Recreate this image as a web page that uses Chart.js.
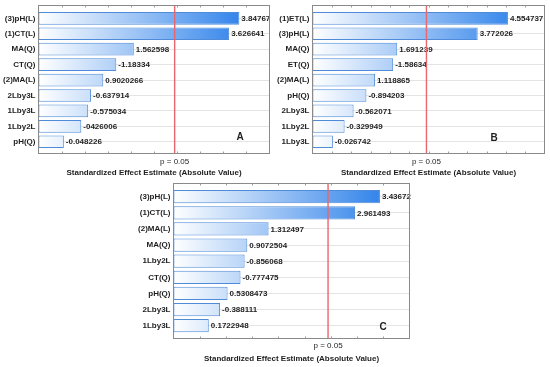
<!DOCTYPE html>
<html><head><meta charset="utf-8">
<script src="https://cdn.jsdelivr.net/npm/chart.js@4/dist/chart.umd.min.js"></script>
<style>
html,body{margin:0;padding:0;background:#fff;width:550px;height:367px;overflow:hidden;}
canvas{position:absolute;}
</style></head><body>
<canvas id="cA" width="275" height="180" style="left:0;top:0"></canvas>
<canvas id="cB" width="275" height="180" style="left:275px;top:0"></canvas>
<canvas id="cC" width="300" height="187" style="left:120px;top:180px"></canvas>
<script>
// ---- data ----
const xTitle = 'Standardized Effect Estimate (Absolute Value)';
const pLabel = 'p = 0.05';
const pCrit = 2.4469;

const labelsA = ['(3)pH(L)','(1)CT(L)','MA(Q)','CT(Q)','(2)MA(L)','2Lby3L','1Lby3L','1Lby2L','pH(Q)'];
const effectsA = [3.84767, 3.626641, 1.562598, -1.18334, 0.9020266, -0.637914, -0.575034, -0.426006, -0.048226];
const textsA = ['3.84767','3.626641','1.562598','-1.18334','0.9020266','-0.637914','-0.575034','-0426006','-0.048226'];

const labelsB = ['(1)ET(L)','(3)pH(L)','MA(Q)','ET(Q)','(2)MA(L)','pH(Q)','2Lby3L','1Lby2L','1Lby3L'];
const effectsB = [4.554737, 3.772026, 1.691239, -1.58634, 1.118865, -0.894203, -0.562071, -0.329949, -0.026742];
const textsB = ['4.554737','3.772026','1.691239','-1.58634','1.118865','-0.894203','-0.562071','-0.329949','-0.026742'];

const labelsC = ['(3)pH(L)','(1)CT(L)','(2)MA(L)','MA(Q)','1Lby2L','CT(Q)','pH(Q)','2Lby3L','1Lby3L'];
const effectsC = [3.43672, 2.961493, 1.312497, 0.9072504, -0.856068, -0.777475, 0.5308473, -0.388111, 0.1722948];
const textsC = ['3.43672','2.961493','1.312497','0.9072504','-0.856068','-0.777475','0.5308473','-0.388111','0.1722948'];

// ---- drawing ----
const FAM = '"Liberation Sans", Arial, sans-serif';
const TXT = '#1e1e1e';

const decor = {
  id: 'decor',
  afterDatasetsDraw(chart, args, o) {
    const {ctx, chartArea: ca, scales: {x}} = chart;
    ctx.save();
    // value labels
    const meta = chart.getDatasetMeta(0);
    ctx.font = 'bold 8px ' + FAM;
    ctx.fillStyle = TXT; ctx.textBaseline = 'middle'; ctx.textAlign = 'left';
    meta.data.forEach((bar, i) => ctx.fillText(o.texts[i], bar.x + 2, bar.y + 0.5));
    // critical line
    const px = x.getPixelForValue(pCrit);
    ctx.strokeStyle = '#e8666e'; ctx.lineWidth = 1.4;
    ctx.beginPath(); ctx.moveTo(px, o.frameTop); ctx.lineTo(px, o.frameBottom); ctx.stroke();
    // frame
    ctx.strokeStyle = '#8a8a8a'; ctx.lineWidth = 1;
    ctx.strokeRect(ca.left, o.frameTop, ca.right - ca.left, o.frameBottom - o.frameTop);
    // small inward tick marks
    ctx.strokeStyle = '#9a9a9a';
    ctx.beginPath();
    for (let v = x.min + 0.5; v < x.max - 1e-9; v += 0.5) {
      const tx = Math.round(x.getPixelForValue(v)) + 0.5;
      ctx.moveTo(tx, o.frameBottom); ctx.lineTo(tx, o.frameBottom - 2);
      ctx.moveTo(tx, o.frameTop); ctx.lineTo(tx, o.frameTop + 2);
    }
    ctx.stroke();
    // panel letter
    ctx.font = 'bold 10px ' + FAM; ctx.textAlign = 'center'; ctx.fillStyle = TXT;
    ctx.fillText(o.letter, o.letterX, o.letterY);
    ctx.restore();
  }
};

function makeChart(id, labels, effects, texts, lay) {
  return new Chart(document.getElementById(id), {
    type: 'bar',
    plugins: [decor],
    data: {
      labels: labels,
      datasets: [{
        data: effects.map(Math.abs),
        base: lay.xMin,
        backgroundColor: (c) => {
          const ca = c.chart.chartArea;
          if (!ca) return '#8fbff2';
          const g = c.chart.ctx.createLinearGradient(ca.left, 0, ca.right, 0);
          g.addColorStop(0, '#ffffff');
          g.addColorStop(1, '#1673e8');
          return g;
        },
        borderColor: '#4f8bd8',
        borderWidth: 1,
        borderSkipped: false,
        categoryPercentage: 1,
        barPercentage: 0.82
      }]
    },
    options: {
      indexAxis: 'y',
      responsive: false,
      animation: false,
      layout: {padding: {left: 0, right: lay.padRight, top: lay.padTop, bottom: 0}},
      plugins: {
        legend: {display: false},
        tooltip: {enabled: false},
        decor: {texts: texts, frameTop: lay.frameTop, frameBottom: lay.frameBottom,
                letter: lay.letter, letterX: lay.letterX, letterY: lay.letterY}
      },
      scales: {
        x: {
          type: 'linear', min: lay.xMin, max: lay.xMax,
          afterBuildTicks: (s) => { s.ticks = [{value: pCrit}]; },
          afterFit: (s) => { s.height = lay.xH; },
          grid: {display: false, drawTicks: false},
          border: {display: false},
          ticks: {callback: () => pLabel, font: {family: FAM, size: 8}, color: TXT,
                  padding: lay.tickPad, maxRotation: 0, autoSkip: false},
          title: {display: true, text: xTitle, font: {family: FAM, size: 8, weight: 'bold'},
                  color: TXT, padding: {top: 0, bottom: lay.titlePad}}
        },
        y: {
          afterFit: (s) => { s.width = lay.yW; },
          grid: {color: '#e4e4e4', offset: false, drawTicks: false},
          border: {display: false},
          ticks: {font: {family: FAM, size: 8, weight: 'bold'}, color: TXT, padding: 3}
        }
      }
    }
  });
}

makeChart('cA', labelsA, effectsA, textsA, {
  xMin: -0.5, xMax: 4.5, yW: 38.5, padRight: 5.5, padTop: 10.6, xH: 30.5,
  frameTop: 5.5, frameBottom: 153.5, tickPad: 7, titlePad: 2,
  letter: 'A', letterX: 240, letterY: 137
});
makeChart('cB', labelsB, effectsB, textsB, {
  xMin: -0.5, xMax: 5.5, yW: 37.5, padRight: 5.5, padTop: 10.6, xH: 30.5,
  frameTop: 5.5, frameBottom: 153.5, tickPad: 7, titlePad: 2,
  letter: 'B', letterX: 219, letterY: 138.5
});
makeChart('cC', labelsC, effectsC, textsC, {
  xMin: -0.5, xMax: 4.0, yW: 53.5, padRight: 10.5, padTop: 8.6, xH: 33.2,
  frameTop: 3.5, frameBottom: 158.5, tickPad: 7, titlePad: 3,
  letter: 'C', letterX: 263, letterY: 147
});
</script>
</body></html>
